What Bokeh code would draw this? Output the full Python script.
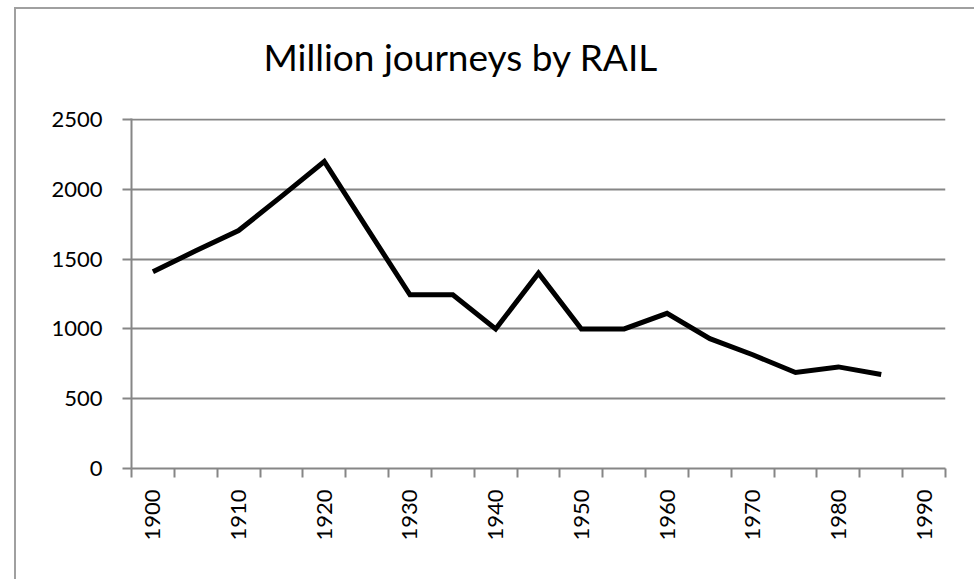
import math
from bokeh.plotting import figure
from bokeh.models import FixedTicker, ColumnDataSource, Title
from bokeh.embed import file_html
from bokeh.resources import INLINE

years = [1900, 1905, 1910, 1915, 1920, 1925, 1930, 1935, 1940, 1945,
         1950, 1955, 1960, 1965, 1970, 1975, 1980, 1985, 1990]
journeys = [1410, 1560, 1705, 1950, 2200, 1720, 1245, 1245, 1000, 1400,
            1000, 1000, 1112, 930, 815, 688, 728, 673, float("nan")]
label_years = [1900, 1910, 1920, 1930, 1940, 1950, 1960, 1970, 1980, 1990]
y_ticks = [0, 500, 1000, 1500, 2000, 2500]
chart_title = "Million journeys by RAIL"

# chart area starts at (14, 7) in the window; it has a left and top border
OFF_X, OFF_Y = 14, 7
W, H = 974 - OFF_X, 579 - OFF_Y

n = len(years)
xs = [i + 0.5 for i in range(n)]
src = ColumnDataSource(dict(x=xs, y=journeys))

p = figure(width=W, height=H, output_backend="svg", toolbar_location=None,
           x_range=(0, n), y_range=(0, 2508),
           min_border_left=131 - OFF_X - 2, min_border_right=31,
           min_border_top=118 - OFF_Y - 2, min_border_bottom=113,
           margin=(OFF_Y, 0, 0, OFF_X),
           styles={"border-left": "2px solid #a0a0a0",
                   "border-top": "2px solid #a0a0a0"})
p.outline_line_color = None
p.background_fill_color = "white"
p.border_fill_color = "white"

p.line("x", "y", source=src, line_color="black", line_width=5,
       line_join="miter")

grid_gray = "#868686"
font = "Lato"

# spacer between the frame and the title (closest to the frame)
spacer = Title(text="\u00a0", text_font=font, text_font_size="31px",
               standoff=0, text_color="white")
p.add_layout(spacer, "above")
main_title = Title(text=chart_title, text_font=font, text_font_size="37px",
                   text_font_style="normal", text_color="black",
                   align="left", offset=132, standoff=0)
p.add_layout(main_title, "above")

# x axis
label_pos = [years.index(y) + 0.5 for y in label_years]
p.xaxis.ticker = FixedTicker(ticks=label_pos, minor_ticks=list(range(n + 1)))
p.xaxis.major_label_overrides = {pos: str(y) for pos, y in zip(label_pos, label_years)}
p.xaxis.major_label_orientation = math.pi / 2
p.xaxis.major_tick_line_color = None
p.xaxis.minor_tick_line_color = grid_gray
p.xaxis.minor_tick_in = 0
p.xaxis.minor_tick_out = 9
p.xaxis.minor_tick_line_width = 2
p.xaxis.axis_line_color = grid_gray
p.xaxis.axis_line_width = 2
p.xaxis.major_label_text_font = font
p.xaxis.major_label_text_font_size = "22px"
p.xaxis.major_label_text_color = "black"
p.xaxis.major_label_standoff = 12
p.xgrid.grid_line_color = None

# y axis
p.yaxis.ticker = FixedTicker(ticks=y_ticks)
p.yaxis.minor_tick_line_color = None
p.yaxis.major_tick_line_color = grid_gray
p.yaxis.major_tick_line_width = 2
p.yaxis.major_tick_in = 0
p.yaxis.major_tick_out = 9
p.yaxis.axis_line_color = grid_gray
p.yaxis.axis_line_width = 2
p.yaxis.major_label_text_font = font
p.yaxis.major_label_text_font_size = "22px"
p.yaxis.major_label_text_color = "black"
p.yaxis.major_label_standoff = 20
p.ygrid.grid_line_color = grid_gray
p.ygrid.grid_line_width = 2

open("out.html", "w").write(file_html(p, INLINE))
